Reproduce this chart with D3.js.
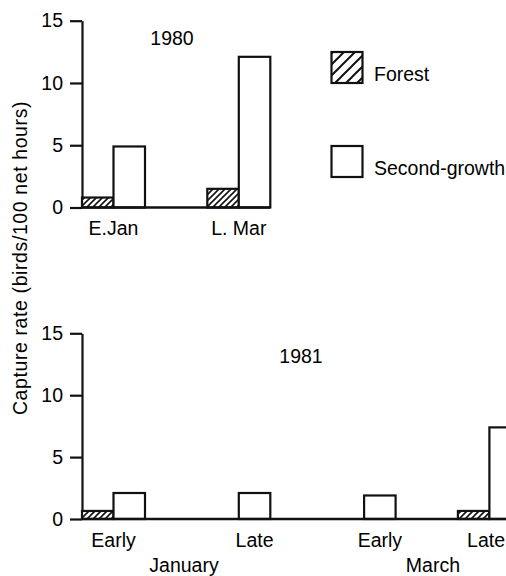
<!DOCTYPE html>
<html><head><meta charset="utf-8">
<script src="https://cdn.jsdelivr.net/npm/d3@7"></script>
<style>
body{margin:0;background:#fff}
svg{display:block}
text{font-family:"Liberation Sans",Arial,Helvetica,sans-serif;fill:#000;font-size:19.5px}
</style>
</head><body><svg id="c" width="506" height="576"></svg>
<script>
const seriesNames = ["Forest", "Second-growth"];
const periods1980 = ["E.Jan", "L. Mar"];
const slots1980 = [0, 1];
const forest1980 = [0.8, 1.5];
const second1980 = [4.9, 12.1];
const periods1981 = ["Early", "Late", "Early", "Late"];
const slots1981 = [0, 1, 2, 3];
const months1981 = ["January", "March"];
const forest1981 = [0.65, 0, 0, 0.65];
const second1981 = [2.1, 2.1, 1.9, 7.4];
const yTicks = [0, 5, 10, 15];
const yLabel = "Capture rate (birds/100 net hours)";

const W = 506;
const svg = d3.select("#c");
const ink = "#111";
const defs = svg.append("defs");
function hatch(id, p, sw) {
  const pat = defs.append("pattern").attr("id", id).attr("patternUnits", "userSpaceOnUse")
    .attr("width", p).attr("height", p);
  pat.append("rect").attr("width", p).attr("height", p).attr("fill", "#fff");
  pat.append("path")
    .attr("d", `M${-p/2},${p/2} L${p/2},${-p/2} M0,${p} L${p},0 M${p/2},${p*1.5} L${p*1.5},${p/2}`)
    .attr("stroke", ink).attr("stroke-width", sw);
}
hatch("hb", 6, 1.6);
hatch("hl", 11, 2);

const fills = {"Forest": "url(#hb)", "Second-growth": "#fff"};
const axisX = 82;
const slot = d3.scaleBand().domain(d3.range(4)).range([axisX, axisX + 4 * 125.3]).paddingInner(0).align(0);
const inner = d3.scaleBand().domain(seriesNames).range([0, 63]);

function panel(cfg) {
  const y = d3.scaleLinear().domain([0, 15]).range(cfg.yRange);
  const g = svg.append("g");
  const ax = g.append("g").attr("transform", `translate(${axisX},0)`)
    .call(d3.axisLeft(y).tickValues(yTicks).tickSize(12).tickSizeOuter(0).tickPadding(7));
  ax.selectAll("path,line").attr("stroke", ink).attr("stroke-width", 2.2);
  ax.selectAll("text").style("font-size", "19.5px").style("font-family", "'Liberation Sans',Arial,sans-serif").attr("fill", "#000");

  const rows = cfg.slots.map((s, i) => ({slot: s, label: cfg.labels[i],
    vals: [{k: "Forest", v: cfg.forest[i]}, {k: "Second-growth", v: cfg.second[i]}]}));

  rows.forEach(r => {
    const gx = slot(r.slot);
    r.vals.filter(d => d.v > 0).forEach(d => {
      g.append("rect")
        .attr("x", gx + inner(d.k)).attr("width", inner.bandwidth())
        .attr("y", y(d.v)).attr("height", y(0) - y(d.v))
        .attr("fill", fills[d.k]).attr("stroke", ink).attr("stroke-width", 2.2);
    });
    const vis = r.vals.filter(d => d.v > 0);
    const x0 = gx + inner(vis[0].k), x1 = gx + inner(vis[vis.length - 1].k) + inner.bandwidth();
    r.cx = (x0 + x1) / 2;
    const t = g.append("text").attr("x", r.cx).attr("y", cfg.labelY).attr("text-anchor", "middle").text(r.label);
    const bb = t.node().getBBox();
    if (bb.x + bb.width > W - 1) { r.cx -= (bb.x + bb.width - (W - 1)); t.attr("x", r.cx); }
  });
  const lastEnd = cfg.baseEnd !== undefined ? cfg.baseEnd : slot(cfg.slots[cfg.slots.length - 1]) + 63;
  g.append("line").attr("x1", axisX).attr("x2", lastEnd).attr("y1", y(0)).attr("y2", y(0))
    .attr("stroke", ink).attr("stroke-width", 2.6);
  g.append("text").attr("x", cfg.titleX).attr("y", cfg.titleY).attr("text-anchor", "middle").text(cfg.title);
  return rows;
}

panel({yRange: [207.5, 20.7], slots: slots1980, labels: periods1980, forest: forest1980, second: second1980,
  labelY: 235, title: "1980", titleX: 172, titleY: 45});
const rows81 = panel({yRange: [519, 333.3], slots: slots1981, labels: periods1981, forest: forest1981, second: second1981,
  labelY: 547, title: "1981", titleX: 301, titleY: 363, baseEnd: 520});

months1981.forEach((m, i) => {
  const cx = (rows81[2 * i].cx + rows81[2 * i + 1].cx) / 2;
  svg.append("text").attr("x", cx).attr("y", 572).attr("text-anchor", "middle").text(m);
});

// legend
const leg = svg.append("g");
seriesNames.forEach((s, i) => {
  const ly = 52 + i * 94;
  leg.append("rect").attr("x", 331.5).attr("y", ly).attr("width", 31).attr("height", 31)
    .attr("fill", s === "Forest" ? "url(#hl)" : "#fff").attr("stroke", ink).attr("stroke-width", 2.2);
  leg.append("text").attr("x", 374).attr("y", ly + 29).text(s);
});

svg.append("text").attr("transform", "translate(27,258) rotate(-90)").attr("text-anchor", "middle")
  .style("letter-spacing", "0.6px").text(yLabel);
</script>
</body></html>
